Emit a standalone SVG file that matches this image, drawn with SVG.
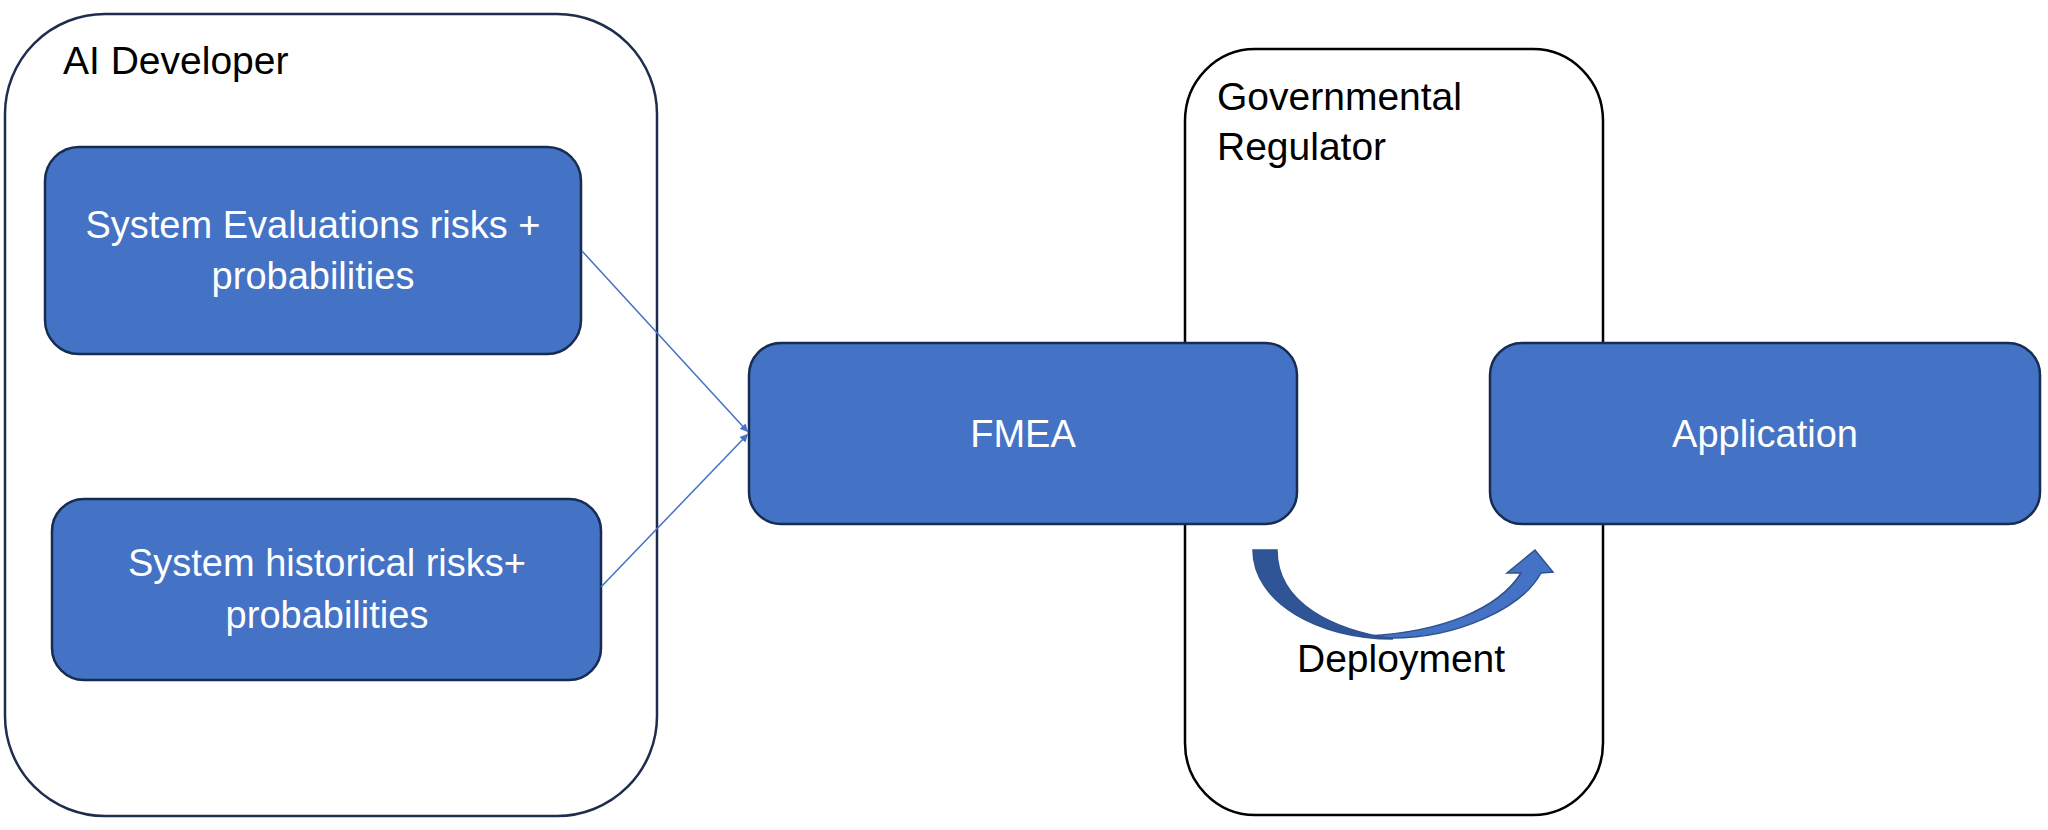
<svg xmlns="http://www.w3.org/2000/svg" width="2048" height="830" viewBox="0 0 2048 830">
<style>
.cont{fill:#ffffff;stroke-width:2.5}
.box{fill:#4472C4;stroke:#172C51;stroke-width:2.5}
.nt{font-family:"Liberation Sans",Arial,sans-serif;font-size:38px;fill:#ffffff;text-anchor:middle}
.lt{font-family:"Liberation Sans",Arial,sans-serif;font-size:39px;fill:#000000}
.conn{stroke:#4472C4;stroke-width:1.5;fill:none}
</style>
<defs>
<marker id="ah" viewBox="0 0 10 10" refX="10" refY="5" markerWidth="8" markerHeight="8" markerUnits="userSpaceOnUse" orient="auto">
<path d="M0,0 L10,5 L0,10 Z" fill="#4472C4"/>
</marker>
</defs>
<rect width="2048" height="830" fill="#ffffff"/>
<g id="ai-developer">
<rect class="cont" x="5" y="14" width="652" height="802" rx="100" ry="100" stroke="#1F2D4D"/>
<text class="lt" x="63" y="74">AI Developer</text>
</g>
<g id="governmental-regulator">
<rect class="cont" x="1185" y="49" width="418" height="766" rx="70" ry="72" stroke="#000000"/>
<text class="lt" x="1217" y="110" font-size="40">Governmental</text>
<text class="lt" x="1217" y="160" font-size="40">Regulator</text>
</g>
<g id="system-evaluations">
<rect class="box" x="45" y="147" width="536" height="207" rx="34" ry="34"/>
<text class="nt" x="313" y="238">System Evaluations risks +</text>
<text class="nt" x="313" y="289">probabilities</text>
</g>
<g id="system-historical">
<rect class="box" x="52" y="499" width="549" height="181" rx="32" ry="32"/>
<text class="nt" x="327" y="576">System historical risks+</text>
<text class="nt" x="327" y="628">probabilities</text>
</g>
<g id="fmea">
<rect class="box" x="749" y="343" width="548" height="181" rx="32" ry="32"/>
<text class="nt" x="1023" y="447" font-size="42">FMEA</text>
</g>
<g id="application">
<rect class="box" x="1490" y="343" width="550" height="181" rx="32" ry="32"/>
<text class="nt" x="1765" y="447" font-size="39.5">Application</text>
</g>
<g id="connectors">
<line class="conn" x1="582" y1="251" x2="748" y2="432" marker-end="url(#ah)"/>
<line class="conn" x1="601" y1="587" x2="748" y2="434" marker-end="url(#ah)"/>
</g>
<g id="deployment">
<path d="M1392 638 C1458 638 1522 608 1541 573 L1553 572 L1535 550 L1507 573 L1521 573 C1498 610 1440 632 1368 636 Z" fill="#4472C4" stroke="#2F528F" stroke-width="1.5"/>
<path d="M1253 550 C1253 602 1318 639 1393 639 C1334 630 1277 604 1277 550 Z" fill="#2F5597" stroke="#2F528F" stroke-width="1.5"/>
<text class="lt" x="1297" y="672" font-size="40.5">Deployment</text>
</g>
</svg>
